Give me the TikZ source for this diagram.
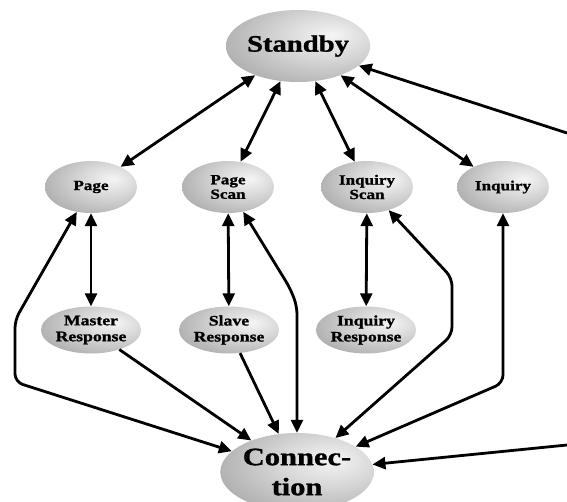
\documentclass[tikz,border=0pt]{standalone}
\usepackage{fontspec}
\newfontfamily\lblfont[FakeStretch=1.22,FakeBold=1.2]{Liberation Serif}
\usetikzlibrary{shapes.geometric,arrows.meta}
\definecolor{shA}{gray}{0.96}
\definecolor{shB}{gray}{0.84}
\definecolor{shC}{gray}{0.66}
\definecolor{shD}{gray}{0.50}
\pgfdeclareradialshading{nodeball}{\pgfpoint{12bp}{8bp}}{color(0bp)=(shA); color(16bp)=(shB); color(38bp)=(shC); color(60bp)=(shD); color(90bp)=(shD)}
\tikzset{
  bub/.style={ellipse, shading=nodeball, inner sep=0pt, align=center, text=black},
  topnode/.style={bub, minimum width=92pt, minimum height=52pt, font=\lblfont\bfseries\fontsize{14}{14.5}\selectfont},
  respnode/.style={bub, minimum width=93pt, minimum height=47pt, font=\lblfont\bfseries\fontsize{14.5}{16}\selectfont},
  arr/.style={line width=2.8pt, -{Triangle[length=13pt,width=12pt]}},
  dbl/.style={line width=2.8pt, {Triangle[length=13pt,width=12pt]}-{Triangle[length=13pt,width=12pt]}}
}
\begin{document}
\begin{tikzpicture}[x=1pt,y=-1pt]
\useasboundingbox (0,0) rectangle (567,501);
\clip (0,0) rectangle (567,501);
\node[bub, minimum width=137pt, minimum height=72pt, font=\lblfont\bfseries\fontsize{23.5}{27}\selectfont] (standby) at (298,46) {Standby};
\node[topnode] (page) at (91,187) {Page};
\node[topnode] (pagescan) at (228,187) {Page\\Scan};
\node[topnode] (inqscan) at (367,187) {Inquiry\\Scan};
\node[topnode] (inquiry) at (503,187) {Inquiry};
\node[respnode] (master) at (91,330) {Master\\Response};
\node[respnode] (slave) at (229,330) {Slave\\Response};
\node[respnode] (inqresp) at (366,330) {Inquiry\\Response};
\node[bub, minimum width=140pt, minimum height=78pt, font=\lblfont\bfseries\fontsize{25}{30}\selectfont] (conn) at (297,472) {Connec-\\tion};
\coordinate (rt) at (567,133);
\coordinate (rb) at (567,445);
\draw[dbl] (standby) -- (page);
\draw[dbl] (standby) -- (pagescan);
\draw[dbl] (standby) -- (inqscan);
\draw[dbl] (standby) -- (inquiry);
\draw[arr] (rt) -- (standby);
\draw[arr] (rb) -- (conn);
\draw[dbl] (page) -- (master);
\draw[dbl] (pagescan) -- (slave);
\draw[dbl] (inqscan) -- (inqresp);
\draw[arr] (master) -- (conn);
\draw[arr] (slave) -- (conn);
\draw[dbl, rounded corners=8pt] (page) -- (15,320) -- (15,382) -- (conn);
\draw[dbl, rounded corners=8pt] (pagescan) -- (290,288) -- (297,306) -- (conn);
\draw[dbl, rounded corners=8pt] (inqscan) -- (452,278) -- (452,335) -- (conn);
\draw[dbl, rounded corners=8pt] (inquiry) -- (503,383) -- (conn);
\end{tikzpicture}
\end{document}
